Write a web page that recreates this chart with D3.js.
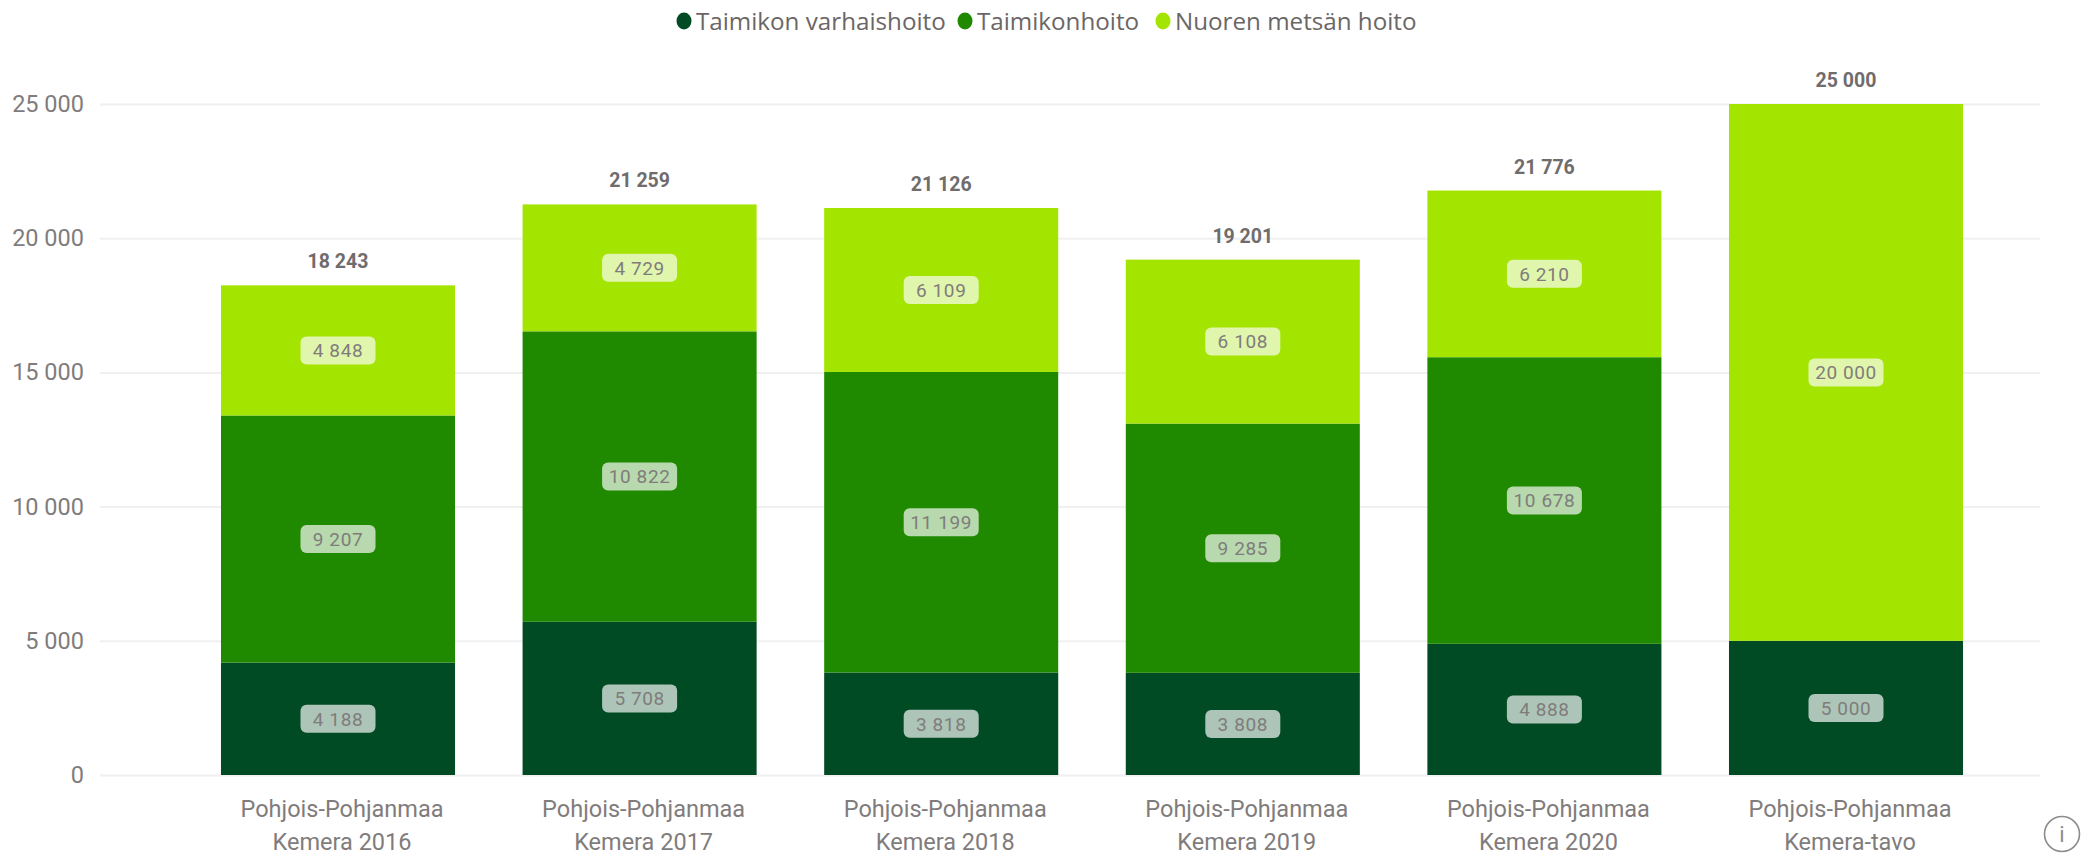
<!DOCTYPE html>
<html><head><meta charset="utf-8">
<script src="https://cdnjs.cloudflare.com/ajax/libs/d3/7.9.0/d3.min.js"></script>
<style>
html,body{margin:0;padding:0;background:#fff;overflow:hidden}
svg{display:block}
text{font-family:"Roboto",sans-serif}
</style></head><body>
<svg id="c" width="2085" height="856"></svg>
<script>
const categories = ["Pohjois-Pohjanmaa|Kemera 2016","Pohjois-Pohjanmaa|Kemera 2017","Pohjois-Pohjanmaa|Kemera 2018","Pohjois-Pohjanmaa|Kemera 2019","Pohjois-Pohjanmaa|Kemera 2020","Pohjois-Pohjanmaa|Kemera-tavo"];
const seriesNames = ["Taimikon varhaishoito","Taimikonhoito","Nuoren metsän hoito"];
const seriesColors = ["#004b23","#1f8a00","#a3e400"];
const varhaishoito = [4188,5708,3818,3808,4888,5000];
const taimikonhoito = [9207,10822,11199,9285,10678,0];
const nuorenMetsan = [4848,4729,6109,6108,6210,20000];
const yTicks = [0,5000,10000,15000,20000,25000];

const svg = d3.select("#c");
const fmt = v => d3.format(",")(v).replace(/,/g," ");
const xb = d3.scaleBand().domain(categories).range([187.2,1996.8]).paddingInner(0.224).paddingOuter(0.112);
const y = d3.scaleLinear().domain([0,25000]).range([775,104]);

const rows = categories.map((c,i)=>({cat:c,a:varhaishoito[i],b:taimikonhoito[i],c:nuorenMetsan[i]}));
const stacked = d3.stack().keys(["a","b","c"])(rows);

// grid + y axis
const gy = svg.append("g").attr("transform","translate(100,0)")
  .call(d3.axisLeft(y).tickValues(yTicks).tickFormat(fmt).tickSize(-1940).tickPadding(16));
gy.select(".domain").remove();
gy.selectAll("line").attr("stroke","#f0f0f0").attr("stroke-width",2);
gy.selectAll("text").attr("fill","#817c7c").style("font-size","23.5px");

// bars
stacked.forEach((s,k)=>{
  svg.append("g").selectAll("rect").data(s).join("rect")
    .attr("x",d=>xb(d.data.cat)).attr("width",xb.bandwidth())
    .attr("y",d=>y(d[1])).attr("height",d=>y(d[0])-y(d[1]))
    .attr("fill",seriesColors[k]);
});

// segment labels
stacked.forEach((s,k)=>{
  const g = svg.append("g").selectAll("g").data(s.filter(d=>d[1]-d[0]>0)).join("g")
    .attr("transform",d=>`translate(${xb(d.data.cat)+xb.bandwidth()/2},${y((d[0]+d[1])/2)})`);
  g.append("rect").attr("x",-37.5).attr("y",-14).attr("width",75).attr("height",28).attr("rx",6)
    .attr("fill","#fff").attr("fill-opacity",0.68);
  g.append("text").attr("text-anchor","middle").attr("dy","0.36em")
    .attr("fill","#807c7c").style("font-size","19px").style("letter-spacing","0.6px")
    .text(d=>fmt(d[1]-d[0]));
});

// totals
svg.append("g").selectAll("text").data(rows).join("text")
  .attr("x",d=>xb(d.cat)+xb.bandwidth()/2)
  .attr("y",d=>y(d.a+d.b+d.c)-17)
  .attr("text-anchor","middle").attr("fill","#706c6c")
  .style("font-size","19.5px").style("font-weight","700")
  .text(d=>fmt(d.a+d.b+d.c));

// x axis labels
const gx = svg.append("g").attr("transform","translate(4,775)")
  .call(d3.axisBottom(xb).tickSize(0).tickFormat(""));
gx.select(".domain").remove();
gx.selectAll(".tick").each(function(d){
  const t = d3.select(this).select("text").attr("y",0).attr("dy",null)
    .attr("fill","#817c7c").style("font-size","23.5px").attr("text-anchor","middle");
  d.split("|").forEach((ln,i)=>t.append("tspan").attr("x",0).attr("y",42+i*33).text(ln));
});

// legend
const legendPos = [682,963,1161];
const lg = svg.append("g").selectAll("g").data(seriesNames).join("g")
  .attr("transform",(d,i)=>`translate(${legendPos[i]},21)`);
lg.append("ellipse").attr("cx",2).attr("cy",0).attr("rx",7.5).attr("ry",8.5).attr("fill",(d,i)=>seriesColors[i]);
lg.append("text").attr("x",14).attr("dy","0.36em").attr("fill","#6b6666")
  .style("font-family","'Open Sans',sans-serif").style("font-size","24.2px").text(d=>d);

// info icon
const info = svg.append("g").attr("transform","translate(2062,834)");
info.append("circle").attr("r",17.5).attr("fill","none").attr("stroke","#8c8c8c").attr("stroke-width",1.6);
info.append("text").attr("text-anchor","middle").attr("dy","0.36em").attr("fill","#8c8c8c").style("font-size","22px").text("i");
</script>
</body></html>
